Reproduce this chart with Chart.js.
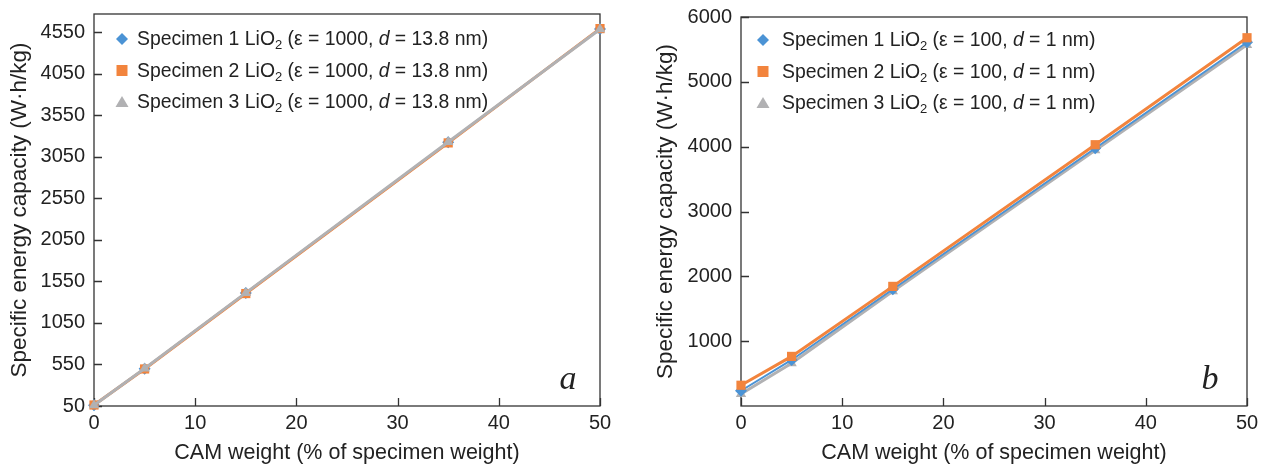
<!DOCTYPE html>
<html>
<head>
<meta charset="utf-8">
<script src="https://cdn.jsdelivr.net/npm/chart.js@4.4.0/dist/chart.umd.min.js"></script>
<style>
    html, body { margin: 0; padding: 0; background: #fff; }
    #wrap { position: relative; width: 1267px; height: 467px; }
    .box { position: absolute; top: 0; height: 467px; }
</style>
</head>
<body>
<div id="wrap">
    <div class="box" style="left:0;width:633px"><canvas id="chartA"></canvas></div>
    <div class="box" style="left:633px;width:634px"><canvas id="chartB"></canvas></div>
</div>
<script>
// Data
const camWeight = [0, 5, 15, 35, 50];
const xTicks = [0, 10, 20, 30, 40, 50];
const yTicksA = [50, 550, 1050, 1550, 2050, 2550, 3050, 3550, 4050, 4550];
const yTicksB = [1000, 2000, 3000, 4000, 5000, 6000];

const seriesNames = ['Specimen 1', 'Specimen 2', 'Specimen 3'];

// panel a: eps = 1000, d = 13.8 nm
const specimen1A = [60, 500, 1410, 3225, 4590];
const specimen2A = [62, 496, 1404, 3218, 4594];
const specimen3A = [58, 502, 1412, 3228, 4586];

// panel b: eps = 100, d = 1 nm
const specimen1B = [235, 710, 1800, 3975, 5610];
const specimen2B = [320, 765, 1845, 4030, 5680];
const specimen3B = [185, 660, 1770, 3945, 5570];

const FONT = '"Liberation Sans", Arial, Helvetica, sans-serif';
const TEXT = '#222';
const FRAME = '#333';
const COLORS = ['#4b93d5', '#f2843d', '#b1b1b3'];
const SHAPES = ['rectRot', 'rect', 'triangle'];

// Draw a marker like the legend glyphs
function drawMarker(ctx, shape, x, y, color) {
    ctx.save();
    ctx.fillStyle = color;
    ctx.beginPath();
    if (shape === 'rectRot') {
        ctx.moveTo(x, y - 6); ctx.lineTo(x + 6, y); ctx.lineTo(x, y + 6); ctx.lineTo(x - 6, y);
    } else if (shape === 'rect') {
        ctx.rect(x - 5.5, y - 5.5, 11, 11);
    } else {
        ctx.moveTo(x, y - 6); ctx.lineTo(x + 6.5, y + 5); ctx.lineTo(x - 6.5, y + 5);
    }
    ctx.closePath();
    ctx.fill();
    ctx.restore();
}

// Text with subscript and italic pieces
function drawRichText(ctx, x, y, parts) {
    ctx.save();
    ctx.fillStyle = TEXT;
    ctx.textBaseline = 'alphabetic';
    ctx.textAlign = 'left';
    parts.forEach(function(p) {
        let dy = 0;
        if (p.s === 'sub') { ctx.font = '13px ' + FONT; dy = 4; }
        else if (p.s === 'i') { ctx.font = 'italic 19.4px ' + FONT; }
        else { ctx.font = '19.4px ' + FONT; }
        ctx.fillText(p.t, x, y + dy);
        x += ctx.measureText(p.t).width;
    });
    ctx.restore();
}

const panelDecor = {
    id: 'panelDecor',
    beforeDatasetsDraw(chart, args, opts) {
        const ctx = chart.ctx;
        const a = chart.chartArea;
        ctx.save();
        ctx.strokeStyle = FRAME;
        ctx.lineWidth = 1.3;
        ctx.strokeRect(a.left, a.top, a.right - a.left, a.bottom - a.top);
        // inward tick marks
        const xs = chart.scales.x, ys = chart.scales.y;
        ctx.beginPath();
        xs.ticks.forEach(function(t, i) {
            const px = Math.round(xs.getPixelForTick(i)) + 0.5;
            ctx.moveTo(px, a.bottom); ctx.lineTo(px, a.bottom - 8);
        });
        ys.ticks.forEach(function(t, i) {
            const py = Math.round(ys.getPixelForTick(i)) + 0.5;
            ctx.moveTo(a.left, py); ctx.lineTo(a.left + 8, py);
        });
        ctx.stroke();
        ctx.restore();
    },
    afterDraw(chart, args, opts) {
        const ctx = chart.ctx;
        const a = chart.chartArea;
        chart.data.datasets.forEach(function(ds, i) {
            const y = a.top + opts.rowTop + i * 31.5;
            drawMarker(ctx, SHAPES[i], a.left + opts.markerX, y - 6, COLORS[i]);
            drawRichText(ctx, a.left + opts.textX, y, [
                { t: seriesNames[i] + ' LiO' }, { t: '2', s: 'sub' },
                { t: ' (\u03b5 = ' + opts.eps + ', ' }, { t: 'd', s: 'i' },
                { t: ' = ' + opts.d + ' nm)' }
            ]);
        });
        ctx.save();
        ctx.font = 'italic 34px "Liberation Serif", "Times New Roman", serif';
        ctx.fillStyle = TEXT;
        ctx.textAlign = 'center';
        ctx.textBaseline = 'alphabetic';
        ctx.fillText(opts.letter, a.right - opts.letterDx, a.bottom - 17);
        ctx.restore();
    }
};

function makeDataset(i, values, order) {
    return {
        label: seriesNames[i],
        data: values,
        borderColor: COLORS[i],
        backgroundColor: COLORS[i],
        borderWidth: i === 0 ? 2 : 3,
        pointStyle: SHAPES[i],
        pointRadius: i === 1 ? 6.5 : 6,
        pointBorderWidth: 0,
        pointHoverRadius: 6,
        tension: 0,
        clip: false,
        order: order
    };
}

function makeChart(id, cfg) {
    return new Chart(document.getElementById(id), {
        type: 'line',
        data: {
            labels: camWeight,
            datasets: cfg.series.map(function(v, i) { return makeDataset(i, v, cfg.order[i]); })
        },
        options: {
            responsive: true,
            maintainAspectRatio: false,
            animation: false,
            layout: { padding: { top: cfg.top, right: cfg.right, left: 0, bottom: 0 } },
            scales: {
                x: {
                    type: 'linear',
                    min: 0, max: 50,
                    afterBuildTicks: function(s) { s.ticks = xTicks.map(v => ({ value: v })); },
                    afterFit: function(s) {
                        s.height = 61;
                        s.paddingLeft = 0; s.paddingRight = 0;
                    },
                    grid: { display: false, drawTicks: false },
                    border: { display: false },
                    ticks: { color: TEXT, font: { family: FONT, size: 20 }, padding: 5, maxRotation: 0,
                             callback: v => String(v) },
                    title: { display: true, text: 'CAM weight (% of specimen weight)', color: TEXT,
                             font: { family: FONT, size: 21.5 }, padding: { top: 1, bottom: 1 } }
                },
                y: {
                    min: cfg.yMin, max: cfg.yMax,
                    afterBuildTicks: function(s) { s.ticks = cfg.yTicks.map(v => ({ value: v })); },
                    afterFit: function(s) {
                        s.width = cfg.yWidth;
                        s.paddingTop = 0; s.paddingBottom = 0;
                    },
                    grid: { display: false, drawTicks: false },
                    border: { display: false },
                    ticks: { color: TEXT, font: { family: FONT, size: 20 }, padding: 9,
                             callback: v => String(v) },
                    title: { display: true, text: 'Specific energy capacity (W\u00b7h/kg)', color: TEXT,
                             font: { family: FONT, size: 22.5 }, padding: { top: cfg.titlePad, bottom: cfg.titlePad } }
                }
            },
            plugins: {
                legend: { display: false },
                tooltip: { enabled: false },
                panelDecor: cfg.decor
            }
        },
        plugins: [panelDecor]
    });
}

makeChart('chartA', {
    series: [specimen1A, specimen2A, specimen3A],
    order: [2, 1, 0],
    yMin: 50, yMax: 4770, yTicks: yTicksA,
    top: 14, right: 33, yWidth: 94, titlePad: 6.5,
    decor: { letter: 'a', letterDx: 32, eps: '1000', d: '13.8', markerX: 28, textX: 43, rowTop: 31 }
});

makeChart('chartB', {
    series: [specimen1B, specimen2B, specimen3B],
    order: [1, 0, 2],
    yMin: 0, yMax: 6000, yTicks: yTicksB,
    top: 17, right: 20, yWidth: 108, titlePad: 19.5,
    decor: { letter: 'b', letterDx: 37, eps: '100', d: '1', markerX: 22, textX: 41, rowTop: 29 }
});
</script>
</body>
</html>
